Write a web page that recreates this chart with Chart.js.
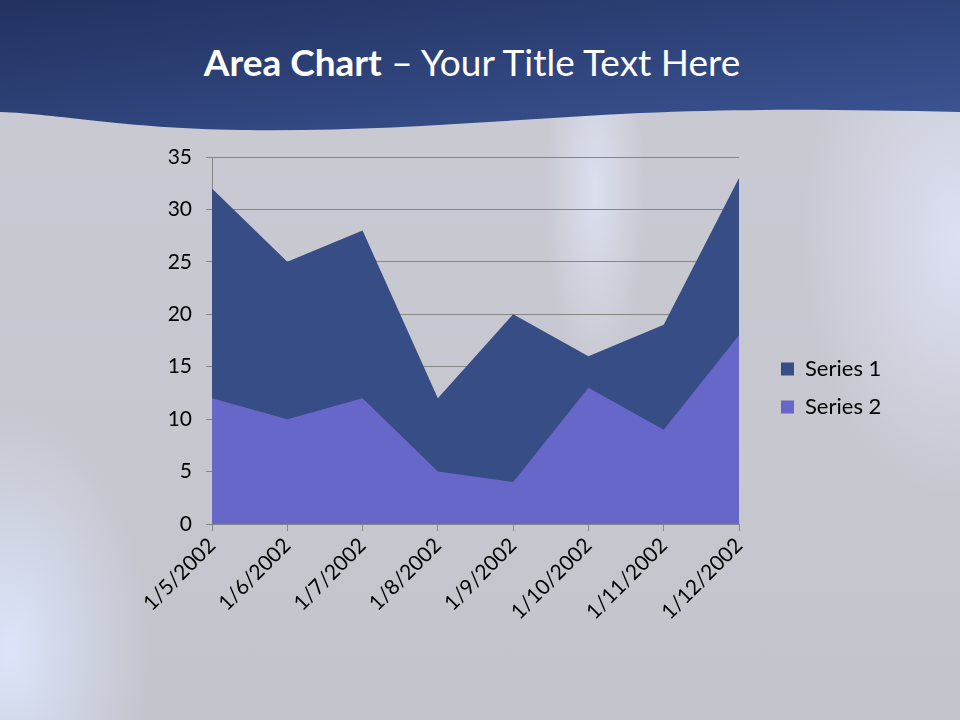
<!DOCTYPE html>
<html lang="en">
<head>
  <meta charset="UTF-8">
  <title>Area Chart</title>
  <script src="https://cdn.jsdelivr.net/npm/chart.js"></script>
  <style>
    html, body { margin: 0; padding: 0; }
    body {
      width: 960px; height: 720px; overflow: hidden; position: relative;
      background:
        radial-gradient(ellipse 140px 240px at 10px 650px, rgba(222,232,255,0.9), rgba(222,232,255,0) 100%),
        radial-gradient(ellipse 160px 260px at 960px 240px, rgba(225,230,250,0.8), rgba(225,230,250,0) 100%),
        radial-gradient(ellipse 50px 190px at 595px 190px, rgba(230,236,255,0.65), rgba(230,236,255,0) 100%),
        linear-gradient(180deg, #c9cad3 0%, #c6c7cf 60%, #c3c4cc 100%);
    }
    #header { position: absolute; left: 0; top: 0; }
    #title {
      position: absolute; left: 0; top: 39px; width: 944px; text-align: center;
      font-family: Lato, sans-serif; font-size: 37px; color: #fff;
    }
    #title b { font-weight: 700; }
    #wrap { position: absolute; left: 0; top: 0; width: 960px; height: 720px; }
  </style>
</head>
<body>
  <svg id="header" width="960" height="140">
    <defs>
      <linearGradient id="hg" x1="0" y1="0" x2="1" y2="1">
        <stop offset="0" stop-color="#22315f"/>
        <stop offset="1" stop-color="#3b5595"/>
      </linearGradient>
    </defs>
    <path d="M0 0 H960 V112 C850 110 760 108 640 113 C500 120 380 132 240 130 C120 128 60 114 0 112 Z" fill="url(#hg)"/>
  </svg>
  <div id="title"><b>Area Chart</b> – Your Title Text Here</div>
  <div id="wrap"><canvas id="chart"></canvas></div>

  <script>
    const labels = ["1/5/2002", "1/6/2002", "1/7/2002", "1/8/2002", "1/9/2002", "1/10/2002", "1/11/2002", "1/12/2002"];
    const series1 = [32, 25, 28, 12, 20, 16, 19, 33];
    const series2 = [12, 10, 12, 5, 4, 13, 9, 18];
    const yTicks = [0, 5, 10, 15, 20, 25, 30, 35];

    Chart.defaults.font.family = "Lato, sans-serif";
    Chart.defaults.color = "#000";

    new Chart(document.getElementById("chart"), {
      type: "line",
      data: {
        labels: labels,
        datasets: [
          { label: "Series 1", data: series1, backgroundColor: "#374d85", borderWidth: 0, fill: "origin", pointRadius: 0, order: 1 },
          { label: "Series 2", data: series2, backgroundColor: "#6767c9", borderWidth: 0, fill: "origin", pointRadius: 0, order: 0 }
        ]
      },
      options: {
        responsive: true,
        maintainAspectRatio: false,
        animation: false,
        layout: { padding: { left: 140, top: 157, right: 70, bottom: 101 } },
        plugins: {
          tooltip: { enabled: false },
          legend: {
            position: "right",
            labels: {
              boxWidth: 13, boxHeight: 13, padding: 16,
              font: { size: 22 },
              sort: (a, b) => a.datasetIndex - b.datasetIndex
            }
          }
        },
        scales: {
          x: {
            offset: false,
            grid: { display: true, drawOnChartArea: false, drawTicks: true, tickLength: 7, color: "#868686" },
            border: { display: true, color: "#868686" },
            ticks: { font: { size: 21 }, maxRotation: 45, minRotation: 45, padding: 2, autoSkip: false },
            afterFit: s => { s.height = 95; }
          },
          y: {
            min: 0, max: 35,
            afterBuildTicks: s => { s.ticks = yTicks.map(v => ({ value: v })); },
            grid: { color: "#868686", tickLength: 6 },
            border: { display: true, color: "#868686" },
            ticks: { font: { size: 21 }, padding: 14 },
            afterFit: s => { s.width = 72; }
          },
          gap: {
            position: "right",
            display: true,
            grid: { display: false },
            border: { display: false },
            ticks: { display: false },
            afterFit: s => { s.width = 26; }
          }
        }
      }
    });
  </script>
</body>
</html>
